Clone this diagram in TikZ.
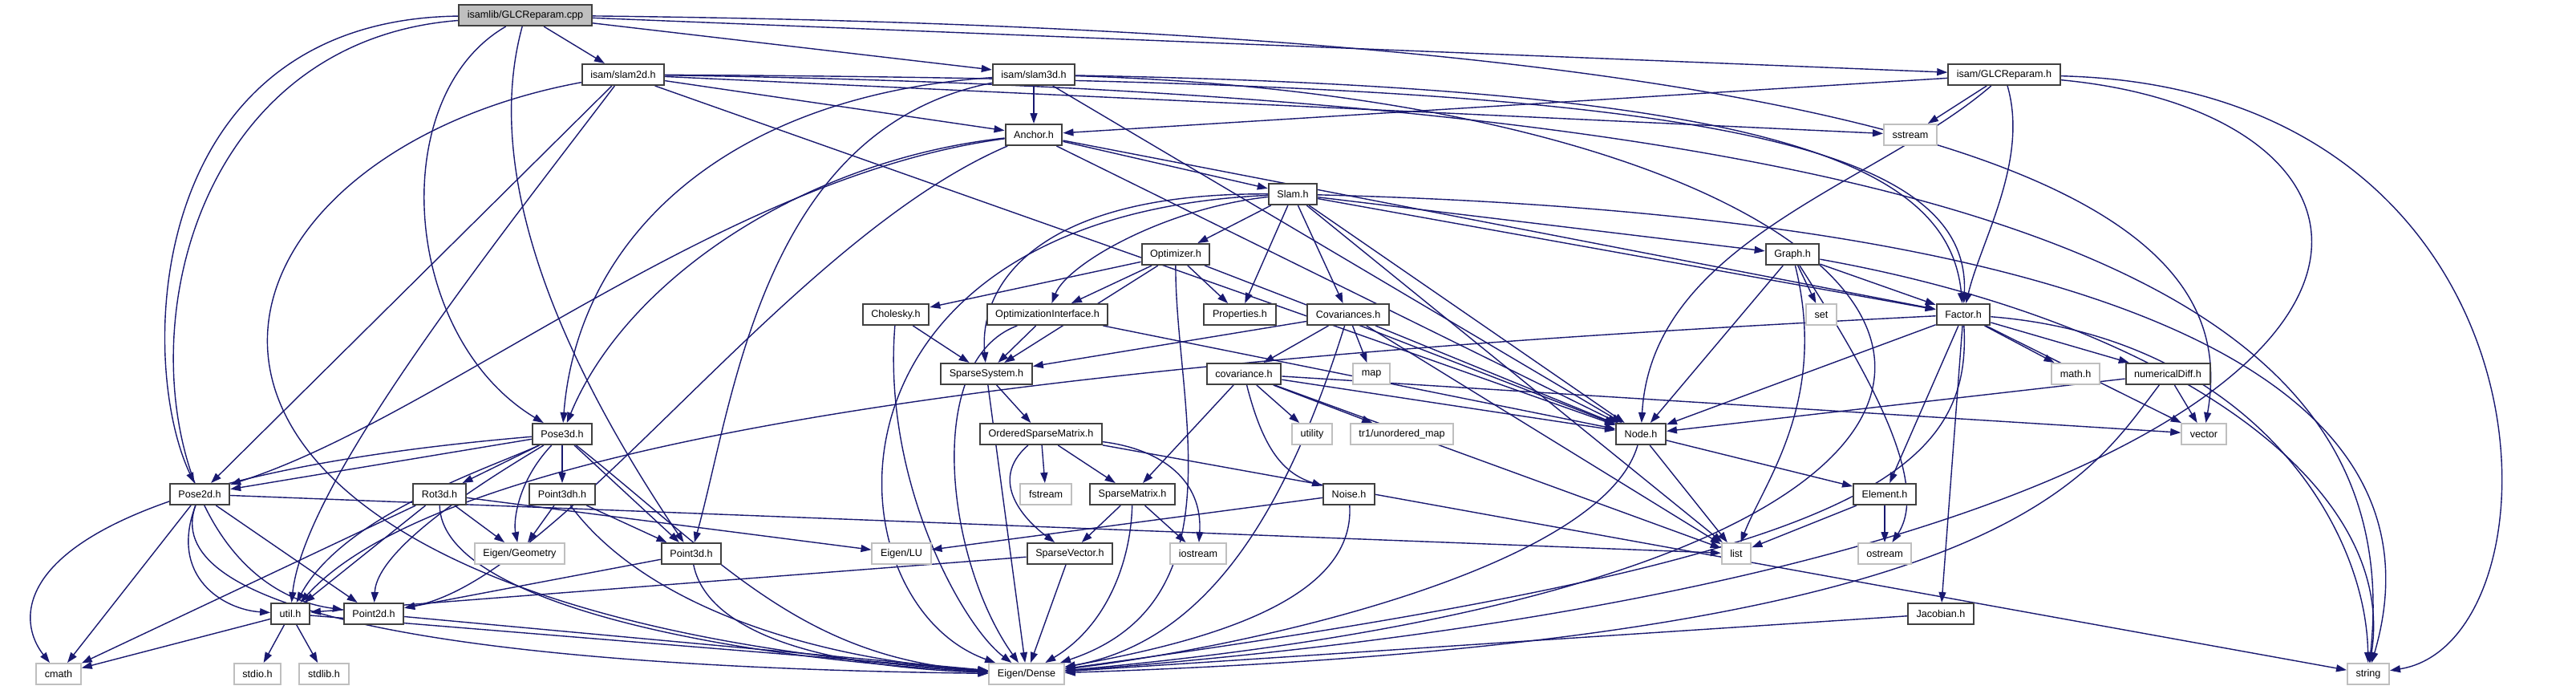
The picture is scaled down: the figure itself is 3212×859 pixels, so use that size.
\documentclass[tikz,border=0pt]{standalone}
\usepackage{fontspec}
\setmainfont{Liberation Sans}
\usetikzlibrary{arrows.meta}
\definecolor{edgeblue}{HTML}{191970}
\definecolor{boxgrey}{HTML}{BFBFBF}
\tikzset{
  hdr/.style={draw=black!75, line width=1pt, fill=white, inner xsep=5.3pt, inner ysep=0pt, minimum height=13pt, font=\fontsize{6.3}{7}\selectfont},
  syshdr/.style={hdr, draw=boxgrey},
  srcfile/.style={hdr, fill=boxgrey},
  inc/.style={draw=edgeblue, line width=0.7pt, -{Triangle[length=6.5pt,width=4.5pt]}},
}
\pgfdeclarelayer{background}
\pgfsetlayers{background,main}

\begin{document}
\begin{tikzpicture}[x=0.5pt, y=-0.5pt]
\useasboundingbox (0,0) rectangle (3212,859);

\node[srcfile] (glccpp)   at ( 655,  19) {isamlib/GLCReparam.cpp};

\node[hdr]     (slam2d)   at ( 777,  93) {isam/slam2d.h};
\node[hdr]     (slam3d)   at (1289,  93) {isam/slam3d.h};
\node[hdr]     (glch)     at (2499,  93) {isam/GLCReparam.h};

\node[hdr]     (anchor)   at (1289, 168) {Anchor.h};
\node[syshdr]  (sstream)  at (2382, 168) {sstream};

\node[hdr]     (slam)     at (1612, 242) {Slam.h};

\node[hdr]     (optim)    at (1466, 317) {Optimizer.h};
\node[hdr]     (graph)    at (2235, 317) {Graph.h};

\node[hdr]     (cholesky) at (1117, 392) {Cholesky.h};
\node[hdr]     (optint)   at (1306, 392) {OptimizationInterface.h};
\node[hdr]     (props)    at (1546, 392) {Properties.h};
\node[hdr]     (covs)     at (1681, 392) {Covariances.h};
\node[syshdr]  (set)      at (2271, 392) {set};
\node[hdr]     (factor)   at (2448, 392) {Factor.h};

\node[hdr]     (spsys)    at (1230, 466) {SparseSystem.h};
\node[hdr]     (cov)      at (1551, 466) {covariance.h};
\node[syshdr]  (map)      at (1710, 466) {map};
\node[syshdr]  (mathh)    at (2588, 466) {math.h};
\node[hdr]     (numdiff)  at (2703, 466) {numericalDiff.h};

\node[hdr]     (pose3d)   at ( 701, 541) {Pose3d.h};
\node[hdr]     (osm)      at (1298, 541) {OrderedSparseMatrix.h};
\node[syshdr]  (utility)  at (1636, 541) {utility};
\node[syshdr]  (tronemap) at (1748, 541) {tr1/unordered\_map};
\node[hdr]     (node)     at (2046, 541) {Node.h};
\node[syshdr]  (vector)   at (2748, 541) {vector};

\node[hdr]     (pose2d)   at ( 249, 616) {Pose2d.h};
\node[hdr]     (rot3d)    at ( 548, 616) {Rot3d.h};
\node[hdr]     (point3dh) at ( 701, 616) {Point3dh.h};
\node[syshdr]  (fstream)  at (1304, 616) {fstream};
\node[hdr]     (spmat)    at (1412, 616) {SparseMatrix.h};
\node[hdr]     (noise)    at (1682, 616) {Noise.h};
\node[hdr]     (element)  at (2350, 616) {Element.h};

\node[syshdr]  (eigengeo) at ( 648, 690) {Eigen/Geometry};
\node[hdr]     (point3d)  at ( 862, 690) {Point3d.h};
\node[syshdr]  (eigenlu)  at (1124, 690) {Eigen/LU};
\node[hdr]     (spvec)    at (1334, 690) {SparseVector.h};
\node[syshdr]  (iostream) at (1494, 690) {iostream};
\node[syshdr]  (list)     at (2165, 690) {list};
\node[syshdr]  (ostream)  at (2350, 690) {ostream};

\node[hdr]     (util)     at ( 362, 765) {util.h};
\node[hdr]     (point2d)  at ( 466, 765) {Point2d.h};
\node[hdr]     (jacobian) at (2420, 765) {Jacobian.h};

\node[syshdr]  (cmath)    at (  73, 840) {cmath};
\node[syshdr]  (stdio)    at ( 321, 840) {stdio.h};
\node[syshdr]  (stdlib)   at ( 404, 840) {stdlib.h};
\node[syshdr]  (dense)    at (1280, 840) {Eigen/Dense};
\node[syshdr]  (string)   at (2953, 840) {string};

\begin{pgfonlayer}{background}
% GLCReparam.cpp
\draw[inc] (glccpp) -- (slam2d);
\draw[inc] (glccpp) -- (slam3d);
\draw[inc] (glccpp) -- (glch);
\draw[inc] (glccpp) .. controls (180,25) and (170,450) .. (pose2d);
\draw[inc] (glccpp) .. controls (128,60) and (128,720) .. (point2d);
\draw[inc] (glccpp) .. controls (480,120) and (500,420) .. (pose3d);
\draw[inc] (glccpp) .. controls (600,220) and (700,450) .. (point3d);
\draw[inc] (glccpp) .. controls (2600,40) and (2790,300) .. (vector);

% slam2d.h
\draw[inc] (slam2d) -- (anchor);
\draw[inc] (slam2d) -- (node);
\draw[inc] (slam2d) .. controls (2000,100) and (2460,150) .. (factor);
\draw[inc] (slam2d) -- (sstream);
\draw[inc] (slam2d) .. controls (2600,120) and (3000,400) .. (string);
\draw[inc] (slam2d) -- (pose2d);
\draw[inc] (slam2d) .. controls (620,300) and (380,600) .. (util);
\draw[inc] (slam2d) .. controls (200,200) and (60,760) .. (dense);

% slam3d.h
\draw[inc] (slam3d) -- (anchor);
\draw[inc] (slam3d) .. controls (900,120) and (720,300) .. (pose3d);
\draw[inc] (slam3d) .. controls (950,160) and (915,500) .. (point3d);
\draw[inc] (slam3d) -- (node);
\draw[inc] (slam3d) .. controls (2200,110) and (2430,200) .. (factor);
\draw[inc] (slam3d) .. controls (2500,130) and (2830,700) .. (dense);

% GLCReparam.h
\draw[inc] (glch) -- (anchor);
\draw[inc] (glch) -- (sstream);
\draw[inc] (glch) .. controls (2340,230) and (2060,300) .. (node);
\draw[inc] (glch) .. controls (2530,200) and (2470,300) .. (factor);
\draw[inc] (glch) .. controls (3205,110) and (3205,800) .. (string);
\draw[inc] (glch) .. controls (3105,150) and (3105,700) .. (dense);

% Anchor.h
\draw[inc] (anchor) -- (slam);
\draw[inc] (anchor) .. controls (1000,200) and (780,350) .. (pose3d);
\draw[inc] (anchor) .. controls (900,220) and (550,520) .. (pose2d);
\draw[inc] (anchor) .. controls (980,300) and (700,720) .. (point2d);
\draw[inc] (anchor) -- (node);
\draw[inc] (anchor) -- (factor);

% Slam.h
\draw[inc] (slam) -- (optim);
\draw[inc] (slam) -- (props);
\draw[inc] (slam) -- (covs);
\draw[inc] (slam) .. controls (1450,260) and (1330,330) .. (optint);
\draw[inc] (slam) .. controls (1300,240) and (1220,350) .. (spsys);
\draw[inc] (slam) -- (graph);
\draw[inc] (slam) -- (node);
\draw[inc] (slam) -- (factor);
\draw[inc] (slam) -- (list);
\draw[inc] (slam) .. controls (2700,270) and (3053,500) .. (string);
\draw[inc] (slam) .. controls (1000,270) and (1030,750) .. (dense);

% Optimizer.h
\draw[inc] (optim) -- (cholesky);
\draw[inc] (optim) -- (optint);
\draw[inc] (optim) -- (props);
\draw[inc] (optim) -- (spsys);
\draw[inc] (optim) -- (node);
\draw[inc] (optim) .. controls (1465,500) and (1550,750) .. (dense);

% Graph.h
\draw[inc] (graph) -- (factor);
\draw[inc] (graph) -- (node);
\draw[inc] (graph) -- (set);
\draw[inc] (graph) .. controls (2280,500) and (2200,600) .. (list);
\draw[inc] (graph) .. controls (2320,450) and (2410,600) .. (ostream);
\draw[inc] (graph) .. controls (2700,400) and (2990,600) .. (string);

% Cholesky.h, OptimizationInterface.h
\draw[inc] (cholesky) -- (spsys);
\draw[inc] (cholesky) .. controls (1100,600) and (1200,780) .. (dense);
\draw[inc] (optint) -- (spsys);
\draw[inc] (optint) -- (node);
\draw[inc] (optint) .. controls (1150,450) and (1180,700) .. (dense);

% Covariances.h, covariance.h
\draw[inc] (covs) -- (spsys);
\draw[inc] (covs) -- (cov);
\draw[inc] (covs) -- (map);
\draw[inc] (covs) -- (node);
\draw[inc] (covs) -- (list);
\draw[inc] (covs) .. controls (1600,650) and (1500,800) .. (dense);
\draw[inc] (cov) -- (spmat);
\draw[inc] (cov) -- (utility);
\draw[inc] (cov) -- (tronemap);
\draw[inc] (cov) -- (node);
\draw[inc] (cov) -- (vector);
\draw[inc] (cov) -- (list);
\draw[inc] (cov) .. controls (1575,560) and (1600,590) .. (noise);

% Factor.h
\draw[inc] (factor) -- (node);
\draw[inc] (factor) -- (element);
\draw[inc] (factor) -- (jacobian);
\draw[inc] (factor) -- (numdiff);
\draw[inc] (factor) -- (mathh);
\draw[inc] (factor) -- (vector);
\draw[inc] (factor) .. controls (2800,420) and (2950,650) .. (string);
\draw[inc] (factor) .. controls (2460,600) and (2300,700) .. (dense);
\draw[inc] (factor) .. controls (1700,430) and (600,500) .. (util);
\draw[inc] (numdiff) -- (vector);
\draw[inc] (numdiff) -- (node);
\draw[inc] (numdiff) .. controls (2600,600) and (2500,800) .. (dense);

% sparse matrices
\draw[inc] (spsys) -- (osm);
\draw[inc] (spsys) -- (dense);
\draw[inc] (osm) -- (fstream);
\draw[inc] (osm) -- (spmat);
\draw[inc] (osm) .. controls (1230,600) and (1280,650) .. (spvec);
\draw[inc] (osm) .. controls (1450,560) and (1500,600) .. (iostream);
\draw[inc] (osm) -- (string);
\draw[inc] (spmat) -- (spvec);
\draw[inc] (spmat) -- (iostream);
\draw[inc] (spmat) .. controls (1410,700) and (1380,780) .. (dense);
\draw[inc] (spvec) -- (dense);
\draw[inc] (spvec) -- (util);

% Noise.h, Node.h, Element.h, Jacobian.h
\draw[inc] (noise) -- (eigenlu);
\draw[inc] (noise) .. controls (1690,750) and (1500,800) .. (dense);
\draw[inc] (node) -- (element);
\draw[inc] (node) -- (list);
\draw[inc] (node) .. controls (2000,700) and (1600,800) .. (dense);
\draw[inc] (element) -- (list);
\draw[inc] (element) -- (ostream);
\draw[inc] (jacobian) -- (dense);

% Pose3d.h
\draw[inc] (pose3d) -- (pose2d);
\draw[inc] (pose3d) -- (rot3d);
\draw[inc] (pose3d) -- (point3dh);
\draw[inc] (pose3d) .. controls (645,600) and (640,650) .. (eigengeo);
\draw[inc] (pose3d) -- (point3d);
\draw[inc] (pose3d) .. controls (620,580) and (430,640) .. (util);
\draw[inc] (pose3d) .. controls (620,590) and (470,680) .. (point2d);
\draw[inc] (pose3d) .. controls (10,600) and (10,760) .. (cmath);
\draw[inc] (pose3d) .. controls (900,700) and (1000,820) .. (dense);

% Pose2d.h, Rot3d.h, points
\draw[inc] (pose2d) -- (cmath);
\draw[inc] (pose2d) .. controls (210,720) and (280,760) .. (util);
\draw[inc] (pose2d) -- (point2d);
\draw[inc] (pose2d) .. controls (200,750) and (500,830) .. (dense);
\draw[inc] (pose2d) -- (list);
\draw[inc] (rot3d) -- (eigengeo);
\draw[inc] (rot3d) -- (eigenlu);
\draw[inc] (rot3d) -- (cmath);
\draw[inc] (rot3d) -- (util);
\draw[inc] (rot3d) .. controls (550,750) and (900,820) .. (dense);
\draw[inc] (point3dh) -- (eigengeo);
\draw[inc] (point3dh) -- (point3d);
\draw[inc] (point3dh) .. controls (800,750) and (1000,820) .. (dense);
\draw[inc] (point3d) -- (point2d);
\draw[inc] (point3d) .. controls (880,780) and (1000,830) .. (dense);
\draw[inc] (point2d) -- (dense);

% util.h
\draw[inc] (util) -- (stdio);
\draw[inc] (util) -- (stdlib);
\draw[inc] (util) -- (cmath);
\draw[inc] (util) -- (dense);
\end{pgfonlayer}
\end{tikzpicture}
\end{document}
